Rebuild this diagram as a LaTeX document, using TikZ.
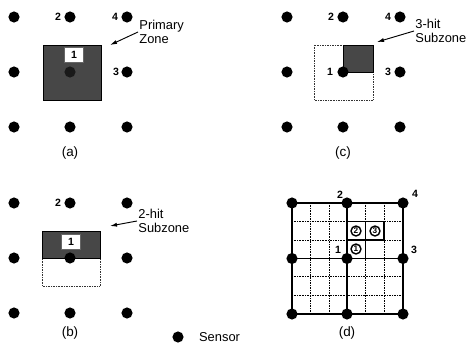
\documentclass[tikz,border=0pt]{standalone}
\usepackage{fontspec}
\setmainfont{Liberation Sans}
\usetikzlibrary{arrows.meta}
\tikzset{
  sensor/.style={circle, fill=black, inner sep=0pt, minimum size=9.5pt},
  num/.style={font=\bfseries\small, inner sep=1pt},
  zone/.style={draw=black, fill=black!72},
  subzone/.style={draw=black!80, densely dotted, thin},
  hitbox/.style={fill=white, draw=black!60, minimum width=16pt, minimum height=13pt, inner sep=0pt, font=\bfseries\small},
  note/.style={align=left, font=\fontsize{11}{11.5}\selectfont, inner sep=1pt},
  caption/.style={font=\fontsize{11.5}{13}\selectfont},
  pointer/.style={-{Latex[length=6pt, width=3.5pt]}, thick},
  circled/.style={circle, draw, very thick, inner sep=0pt, minimum size=8.5pt, font=\bfseries\scriptsize}
}
\begin{document}
\begin{tikzpicture}[x=0.03cm, y=-0.03cm]
  \useasboundingbox (0,0) rectangle (471,344);

  % (a) 主ゾーン
  \draw[zone] (43,45) rectangle (101,100);
  \node[hitbox] (a-hit) at (74,55) {1};
  \node[sensor] (a11) at (14,17) {};
  \node[sensor] (a12) at (70,17) {};
  \node[sensor] (a13) at (127,17) {};
  \node[sensor] (a21) at (14,72) {};
  \node[sensor, fill=black!90] (a22) at (70,72) {};
  \node[sensor] (a23) at (127,72) {};
  \node[sensor] (a31) at (14,127) {};
  \node[sensor] (a32) at (70,127) {};
  \node[sensor] (a33) at (127,127) {};
  \node[num] (a-l2) at (58,17) {2};
  \node[num] (a-l4) at (115,17) {4};
  \node[num] (a-l3) at (116,72) {3};
  \node[note, anchor=west] (a-note) at (138,32) {Primary\\Zone};
  \coordinate (a-tip) at (110,45);
  \draw[pointer] (a-note.west) -- (a-tip);
  \node[caption] (a-cap) at (70,153) {(a)};

  % (c) 3ヒット・サブゾーン
  \draw[subzone] (314,45) rectangle (373,100);
  \draw[zone] (343,45) rectangle (373,72);
  \node[sensor] (c11) at (287,17) {};
  \node[sensor] (c12) at (343,17) {};
  \node[sensor] (c13) at (400,17) {};
  \node[sensor] (c21) at (287,72) {};
  \node[sensor] (c22) at (343,72) {};
  \node[sensor] (c23) at (400,72) {};
  \node[sensor] (c31) at (287,127) {};
  \node[sensor] (c32) at (343,127) {};
  \node[sensor] (c33) at (400,127) {};
  \node[num] (c-l2) at (331,17) {2};
  \node[num] (c-l4) at (388,17) {4};
  \node[num] (c-l1) at (330,72) {1};
  \node[num] (c-l3) at (388,72) {3};
  \node[note, anchor=west] (c-note) at (414,31) {3-hit\\Subzone};
  \coordinate (c-tip) at (377,42);
  \draw[pointer] (c-note.west) -- (c-tip);
  \node[caption] (c-cap) at (343,153) {(c)};

  % (b) 2ヒット・サブゾーン
  \draw[subzone] (42,231) rectangle (100,286);
  \draw[zone] (42,231) rectangle (100,258);
  \node[hitbox] (b-hit) at (71,242) {1};
  \node[sensor] (b11) at (14,203) {};
  \node[sensor] (b12) at (70,203) {};
  \node[sensor] (b13) at (127,203) {};
  \node[sensor] (b21) at (14,258) {};
  \node[sensor] (b22) at (70,258) {};
  \node[sensor] (b23) at (127,258) {};
  \node[sensor] (b31) at (14,313) {};
  \node[sensor] (b32) at (70,313) {};
  \node[sensor] (b33) at (127,313) {};
  \node[num] (b-l2) at (58,203) {2};
  \node[note, anchor=west] (b-note) at (137,221) {2-hit\\Subzone};
  \coordinate (b-tip) at (110,226);
  \draw[pointer] (b-note.west) -- (b-tip);
  \node[caption] (b-cap) at (70,333) {(b)};

  % 凡例
  \node[sensor] (legend) at (178,337) {};
  \node[anchor=west, font=\fontsize{11}{13}\selectfont] (legend-text) at (195,337) {Sensor};

  % (d) 細分グリッド
  \draw[densely dotted, thin]
    (310.5,203) -- (310.5,314) (329,203) -- (329,314)
    (365.5,203) -- (365.5,314) (384,203) -- (384,314)
    (292,221.5) -- (403,221.5) (292,240) -- (403,240)
    (292,276.5) -- (403,276.5) (292,295) -- (403,295);
  \draw[very thick] (292,203) rectangle (403,314);
  \draw[very thick] (347,203) -- (347,314) (292,258.5) -- (403,258.5);
  \draw[very thick] (347,221.5) rectangle (365.5,240);
  \draw[very thick] (365.5,221.5) rectangle (384,240);
  \draw[very thick] (347,240) rectangle (365.5,258.5);
  \node[circled] (d-h2) at (356,231) {2};
  \node[circled] (d-h3) at (375,231) {3};
  \node[circled] (d-h1) at (356,249) {1};
  \node[sensor] (d11) at (292,203) {};
  \node[sensor] (d12) at (347,203) {};
  \node[sensor] (d13) at (403,203) {};
  \node[sensor] (d21) at (292,258.5) {};
  \node[sensor] (d22) at (347,258.5) {};
  \node[sensor] (d23) at (403,258.5) {};
  \node[sensor] (d31) at (292,314) {};
  \node[sensor] (d32) at (347,314) {};
  \node[sensor] (d33) at (403,314) {};
  \node[num] (d-l2) at (340,195) {2};
  \node[num] (d-l4) at (415,194) {4};
  \node[num] (d-l1) at (338,250) {1};
  \node[num] (d-l3) at (414,250) {3};
  \node[caption] (d-cap) at (347,333) {(d)};
\end{tikzpicture}
\end{document}
